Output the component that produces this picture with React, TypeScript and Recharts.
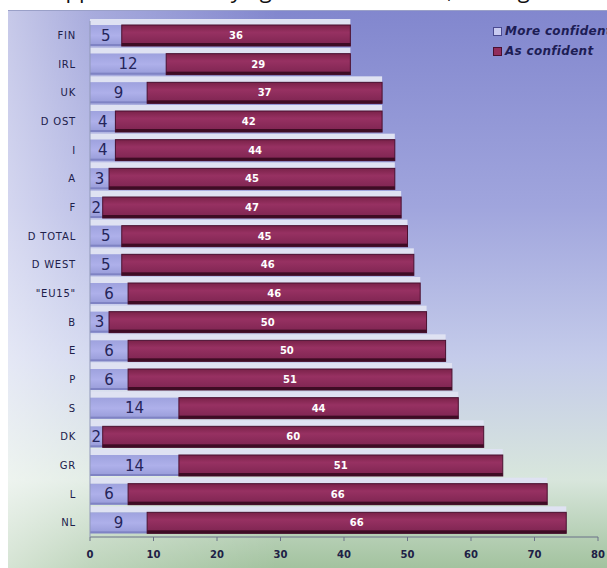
import React from "react";
import { BarChart, Bar, XAxis, YAxis, Legend, LabelList } from "recharts";

const categories = ["FIN", "IRL", "UK", "D OST", "I", "A", "F", "D TOTAL", "D WEST", "\"EU15\"", "B", "E", "P", "S", "DK", "GR", "L", "NL"];
const moreConfident = [5, 12, 9, 4, 4, 3, 2, 5, 5, 6, 3, 6, 6, 14, 2, 14, 6, 9];
const asConfident = [36, 29, 37, 42, 44, 45, 47, 45, 46, 46, 50, 50, 51, 44, 60, 51, 66, 66];
const xTicks = [0, 10, 20, 30, 40, 50, 60, 70, 80];
const seriesNames = ["More confident", "As confident"];
const titleText = "Support for euro by age and confidence, among";

const data = categories.map((name, i) => ({ name, more: moreConfident[i], as: asConfident[i] }));

const MoreShape = (props: any) => {
  const { x, y, width, height, payload } = props;
  const unit = payload.more ? width / payload.more : 0;
  const total = unit * (payload.more + payload.as);
  return (
    <g>
      <rect x={x} y={y - 6} width={total} height={6} fill="#dfe2f2" />
      <rect x={x} y={y} width={width} height={height} fill="url(#gLav)" />
      <rect x={x} y={y + height - 2} width={width} height={2} fill="#7f83c4" />
    </g>
  );
};

const AsShape = (props: any) => {
  const { x, y, width, height } = props;
  return (
    <g>
      <rect x={x} y={y} width={width} height={height} fill="url(#gMar)" stroke="#4a1030" strokeWidth={1} />
      <rect x={x} y={y + height - 3} width={width} height={3} fill="#3e0c24" />
    </g>
  );
};

const LegendContent = () => (
  <div style={{ fontFamily: "DejaVu Sans", fontSize: 12, fontWeight: "bold", fontStyle: "italic", color: "#1d1d55", whiteSpace: "nowrap", letterSpacing: 0.3 }}>
    <div style={{ display: "flex", alignItems: "center", height: 20 }}>
      <span style={{ display: "inline-block", width: 7, height: 7, background: "#c8caf0", border: "1px solid #4a4a90", marginRight: 3 }} />
      {seriesNames[0]}
    </div>
    <div style={{ display: "flex", alignItems: "center", height: 20 }}>
      <span style={{ display: "inline-block", width: 7, height: 7, background: "#922d5c", border: "1px solid #4a1030", marginRight: 3 }} />
      {seriesNames[1]}
    </div>
  </div>
);

export default function App() {
  return (
    <div style={{ position: "absolute", left: 0, top: 0, width: 607, height: 568, overflow: "hidden", background: "#ffffff" }}>
      <div style={{ position: "absolute", left: 0, top: 0, width: 607, height: 10, overflow: "hidden" }}>
        <div style={{ position: "absolute", left: 40, top: -24, fontFamily: "Open Sans", fontSize: 22, lineHeight: "26px", color: "#111", whiteSpace: "nowrap" }}>
          {titleText}
        </div>
      </div>
      <div
        style={{
          position: "absolute",
          left: 8,
          top: 10,
          width: 599,
          height: 558,
          borderTop: "1px solid #9aa0c8",
          background:
            "linear-gradient(to right, rgba(255,255,255,0.55) 0%, rgba(255,255,255,0.3) 14%, rgba(255,255,255,0) 45%), linear-gradient(to bottom, #8287ce 0%, #a0a5dd 35%, #c4cbea 62%, #d8e6dc 84%, #a2c29e 100%)",
        }}
      />
      <div style={{ position: "absolute", left: 0, top: 0 }}>
        <BarChart
          width={607}
          height={568}
          data={data}
          layout="vertical"
          margin={{ top: 21, right: 9, bottom: 0, left: 0 }}
          barCategoryGap={0}
        >
          <defs>
            <linearGradient id="gLav" x1="0" y1="0" x2="0" y2="1">
              <stop offset="0%" stopColor="#9ea2de" />
              <stop offset="50%" stopColor="#aeb0ea" />
              <stop offset="100%" stopColor="#979bd8" />
            </linearGradient>
            <linearGradient id="gMar" x1="0" y1="0" x2="0" y2="1">
              <stop offset="0%" stopColor="#7a2249" />
              <stop offset="35%" stopColor="#973162" />
              <stop offset="100%" stopColor="#7c2450" />
            </linearGradient>
          </defs>
          <XAxis
            type="number"
            domain={[0, 80]}
            ticks={xTicks}
            height={31}
            tickSize={4}
            tickMargin={10}
            axisLine={{ stroke: "#6a7088" }}
            tickLine={{ stroke: "#6a7088" }}
            tick={{ fontSize: 10, fontWeight: "bold", fill: "#202045", fontFamily: "DejaVu Sans" }}
          />
          <YAxis
            type="category"
            dataKey="name"
            width={90}
            tickLine={false}
            tickMargin={8}
            axisLine={{ stroke: "#9098b8" }}
            tick={{ fontSize: 10, fill: "#20204a", fontFamily: "DejaVu Sans", letterSpacing: 0.8 }}
            interval={0}
          />
          <Legend
            verticalAlign="middle"
            align="center"
            layout="vertical"
            content={LegendContent}
            wrapperStyle={{ position: "absolute", left: 493, top: 21, width: 140 }}
          />
          <Bar dataKey="more" stackId="a" name={seriesNames[0]} barSize={21} shape={MoreShape} isAnimationActive={false}>
            <LabelList dataKey="more" position="center" fill="#25255a" fontSize={15} fontFamily="DejaVu Sans" />
          </Bar>
          <Bar dataKey="as" stackId="a" name={seriesNames[1]} barSize={21} shape={AsShape} isAnimationActive={false}>
            <LabelList dataKey="as" position="center" fill="#ffffff" fontSize={10} fontWeight="bold" fontFamily="DejaVu Sans" />
          </Bar>
        </BarChart>
      </div>
    </div>
  );
}
